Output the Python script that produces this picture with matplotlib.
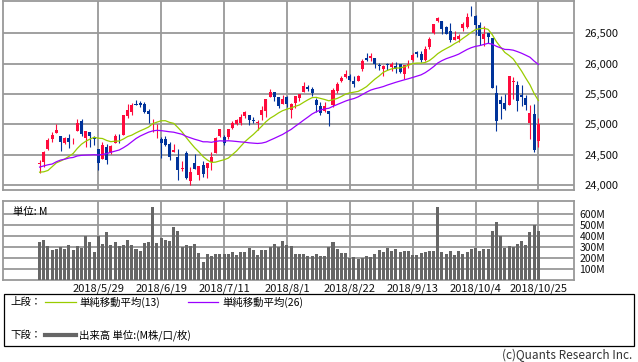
import matplotlib
matplotlib.use("Agg")
import matplotlib.pyplot as plt
from matplotlib.lines import Line2D
from matplotlib.patches import Rectangle
from matplotlib.ticker import FuncFormatter
import pandas as pd

plt.rcParams['font.family'] = ['Noto Sans CJK JP', 'DejaVu Sans']

# daily candles, 2018/5/8 - 2018/10/25
dates = ["5/8", "5/9", "5/10", "5/11", "5/14", "5/15", "5/16", "5/17", "5/18", "5/21",
         "5/22", "5/23", "5/24", "5/25", "5/29", "5/30", "5/31", "6/1", "6/4", "6/5",
         "6/6", "6/7", "6/8", "6/11", "6/12", "6/13", "6/14", "6/15", "6/18", "6/19",
         "6/20", "6/21", "6/22", "6/25", "6/26", "6/27", "6/28", "6/29", "7/2", "7/3",
         "7/5", "7/6", "7/9", "7/10", "7/11", "7/12", "7/13", "7/16", "7/17", "7/18",
         "7/19", "7/20", "7/23", "7/24", "7/25", "7/26", "7/27", "7/30", "7/31", "8/1",
         "8/2", "8/3", "8/6", "8/7", "8/8", "8/9", "8/10", "8/13", "8/14", "8/15",
         "8/16", "8/17", "8/20", "8/21", "8/22", "8/23", "8/24", "8/27", "8/28", "8/29",
         "8/30", "8/31", "9/4", "9/5", "9/6", "9/7", "9/10", "9/11", "9/12", "9/13",
         "9/14", "9/17", "9/18", "9/19", "9/20", "9/21", "9/24", "9/25", "9/26", "9/27",
         "9/28", "10/1", "10/2", "10/3", "10/4", "10/5", "10/8", "10/9", "10/10", "10/11",
         "10/12", "10/15", "10/16", "10/17", "10/18", "10/19", "10/22", "10/23", "10/24", "10/25"]

opens = [24341, 24387, 24591, 24752, 24855, 24811, 24697, 24770, 24702, 24883,
         25047, 24773, 24880, 24795, 24600, 24435, 24626, 24542, 24700, 24804,
         24823, 25134, 25199, 25336, 25350, 25336, 25226, 25081, 24982, 24762,
         24760, 24681, 24542, 24466, 24260, 24530, 24061, 24361, 24161, 24335,
         24280, 24373, 24528, 24800, 24795, 24795, 24934, 25000, 25025, 25139,
         25154, 25064, 25014, 25147, 25225, 25448, 25530, 25453, 25336, 25446,
         25240, 25344, 25441, 25531, 25616, 25586, 25400, 25304, 25220, 25213,
         25314, 25551, 25708, 25780, 25800, 25718, 25717, 25904, 26091, 26088,
         26090, 25975, 25916, 25990, 25950, 25954, 25993, 25832, 25972, 26060,
         26183, 26153, 26060, 26277, 26507, 26704, 26697, 26604, 26533, 26392,
         26406, 26578, 26604, 26836, 26780, 26633, 26398, 26500, 26424, 25522,
         25397, 25354, 25325, 25690, 25640, 25477, 25441, 25020, 25168, 24724]

highs = [24412, 24554, 24778, 24868, 25010, 24811, 24798, 24839, 24782, 25086,
         25086, 24889, 24880, 24801, 24600, 24708, 24682, 24665, 24845, 24844,
         25146, 25326, 25345, 25400, 25386, 25359, 25246, 25090, 25008, 24789,
         24811, 24711, 24668, 24590, 24395, 24560, 24291, 24509, 24307, 24397,
         24363, 24538, 24788, 24919, 24817, 24924, 25052, 25087, 25164, 25216,
         25160, 25124, 25066, 25294, 25414, 25580, 25530, 25453, 25475, 25467,
         25345, 25462, 25502, 25692, 25652, 25621, 25435, 25363, 25370, 25213,
         25602, 25691, 25787, 25888, 25836, 25791, 25819, 26069, 26167, 26167,
         26090, 26011, 25979, 26012, 26031, 26022, 26000, 25981, 26057, 26170,
         26211, 26213, 26295, 26445, 26657, 26769, 26697, 26616, 26664, 26537,
         26487, 26677, 26828, 26951, 26801, 26681, 26623, 26511, 26424, 25640,
         25459, 25500, 25801, 25776, 25713, 25645, 25486, 25321, 25327, 25101]

lows = [24196, 24296, 24570, 24712, 24851, 24567, 24669, 24615, 24681, 24883,
        24803, 24626, 24621, 24666, 24252, 24435, 24352, 24512, 24700, 24694,
        24823, 25109, 25159, 25316, 25291, 25194, 25024, 24866, 24779, 24448,
        24642, 24415, 24542, 24084, 24225, 24100, 23997, 24271, 24077, 24131,
        24123, 24241, 24528, 24790, 24658, 24752, 24920, 24983, 24983, 25109,
        24994, 25015, 24911, 25071, 25125, 25448, 25388, 25264, 25336, 25292,
        25100, 25275, 25389, 25531, 25552, 25468, 25208, 25155, 25200, 24965,
        25285, 25516, 25701, 25762, 25719, 25614, 25707, 25872, 26043, 26047,
        25934, 25886, 25801, 25887, 25882, 25840, 25845, 25750, 25933, 26044,
        26102, 26032, 26050, 26242, 26492, 26686, 26486, 26486, 26348, 26380,
        26363, 26533, 26590, 26789, 26470, 26309, 26296, 26339, 25598, 24896,
        25080, 25239, 25325, 25421, 25216, 25306, 25236, 24757, 24540, 24630]

closes = [24360, 24542, 24739, 24831, 24899, 24706, 24768, 24713, 24715, 25013,
          24834, 24886, 24811, 24753, 24361, 24667, 24415, 24635, 24813, 24799,
          25146, 25241, 25316, 25322, 25320, 25201, 25175, 25090, 24987, 24700,
          24657, 24461, 24580, 24252, 24283, 24117, 24216, 24271, 24307, 24174,
          24356, 24456, 24776, 24919, 24700, 24924, 25019, 25064, 25119, 25199,
          25064, 25058, 25044, 25241, 25414, 25527, 25451, 25306, 25415, 25333,
          25326, 25462, 25502, 25628, 25583, 25509, 25313, 25187, 25299, 25162,
          25558, 25669, 25758, 25822, 25733, 25656, 25790, 26049, 26064, 26124,
          25986, 25964, 25952, 25974, 25995, 25916, 25857, 25971, 25998, 26145,
          26154, 26062, 26246, 26405, 26656, 26743, 26562, 26492, 26385, 26439,
          26458, 26651, 26773, 26828, 26627, 26447, 26486, 26430, 25598, 25052,
          25339, 25250, 25798, 25706, 25379, 25444, 25317, 25191, 24583, 25003]

# closes before the window (4/3 - 5/7), only used to start the moving averages
prior_closes = [24033, 24264, 24505, 23933, 23979, 24408, 24189, 24483, 24360, 24573,
                24787, 24748, 24665, 24463, 24449, 24024, 24084, 24322, 24311, 24163,
                24099, 23925, 23930, 24263, 24357]

# volume, millions
volumes = [345, 363, 309, 273, 285, 297, 282, 318, 273, 309,
           294, 399, 345, 255, 399, 327, 435, 321, 345, 312,
           321, 363, 318, 282, 264, 339, 345, 663, 336, 381,
           363, 357, 480, 444, 300, 318, 309, 327, 246, 165,
           237, 219, 237, 237, 237, 237, 255, 228, 255, 255,
           291, 273, 228, 273, 273, 300, 327, 300, 354, 320,
           309, 237, 237, 237, 219, 219, 237, 219, 219, 300,
           345, 282, 246, 246, 201, 210, 192, 201, 219, 210,
           237, 273, 255, 291, 264, 282, 255, 264, 264, 228,
           228, 246, 255, 264, 264, 663, 255, 237, 264, 228,
           264, 237, 255, 282, 291, 264, 282, 282, 444, 525,
           399, 291, 309, 300, 327, 354, 318, 435, 498, 444]

tick_dates = ["5/29", "6/19", "7/11", "8/1", "8/22", "9/13", "10/4", "10/25"]

UP = '#ff0a3c'
DOWN = '#00339a'
GRID = '#999999'

all_close = pd.Series(prior_closes + closes)
ma13 = all_close.rolling(13).mean().values[len(prior_closes):]
ma26 = all_close.rolling(26).mean().values[len(prior_closes):]

x = list(range(len(dates)))
W, H = 638, 362
fig = plt.figure(figsize=(W / 100, H / 100), dpi=100)

def box(l, t, r, b):
    return [l / W, 1 - b / H, (r - l) / W, (b - t) / H]

ax = fig.add_axes(box(3.3, 1, 574, 190))
axv = fig.add_axes(box(3.3, 201, 574, 280.3))

ticks = [dates.index(d) for d in tick_dates]

# candles
colors = [UP if c >= o else DOWN for o, c in zip(opens, closes)]
ax.vlines(x, lows, highs, colors=colors, linewidth=0.8, zorder=3)
bottoms = [min(o, c) for o, c in zip(opens, closes)]
heights = [max(abs(c - o), 7) for o, c in zip(opens, closes)]
ax.bar(x, heights, bottom=bottoms, width=0.72, color=colors, linewidth=0, zorder=4)

ax.plot(x, ma13, color='#99cc00', linewidth=0.9, zorder=5)
ax.plot(x, ma26, color='#9b00ff', linewidth=0.9, zorder=5)

ax.set_xlim(-8.66, 127.5)
ax.set_ylim(23918, 27030)
ax.set_yticks([24000, 24500, 25000, 25500, 26000, 26500])
ax.yaxis.set_major_formatter(FuncFormatter(lambda v, p: f"{int(v):,}"))
ax.yaxis.tick_right()
ax.set_xticks(ticks)
ax.set_xticklabels([])
ax.tick_params(length=0)
ax.tick_params(axis='y', pad=7.5, labelsize=8, colors='#111111')

# volume
axv.bar(x, volumes, width=0.72, color='#666666', linewidth=0, zorder=3)
axv.set_xlim(-8.66, 127.5)
axv.set_ylim(0, 715)
axv.set_yticks([100, 200, 300, 400, 500, 600])
axv.set_yticklabels([f"{v}M" for v in [100, 200, 300, 400, 500, 600]])
axv.yaxis.tick_right()
axv.set_xticks(ticks)
axv.set_xticklabels(["2018/" + d for d in tick_dates])
axv.tick_params(length=0)
axv.tick_params(axis='y', pad=4, labelsize=7.5, colors='#111111')
axv.tick_params(axis='x', pad=2, labelsize=8, colors='#111111')
axv.text(0.017, 0.93, "単位: M", transform=axv.transAxes, fontsize=7.5,
         ha='left', va='top', zorder=6)

for a in (ax, axv):
    a.grid(True, color=GRID, linewidth=1.3, zorder=0)
    a.set_axisbelow(True)
    for s in a.spines.values():
        s.set_color(GRID)
        s.set_linewidth(1.3)

# legend box
fig.patches.append(Rectangle((3.5 / W, 1 - 346 / H), 630.5 / W, 52 / H,
                             transform=fig.transFigure, fill=False,
                             edgecolor='black', linewidth=0.9))
def fy(py):
    return 1 - py / H

fig.text(10 / W, fy(302), "上段：", fontsize=7.5, va='center', ha='left')
fig.lines.append(Line2D([45 / W, 76 / W], [fy(302), fy(302)], color='#99cc00',
                        linewidth=0.9, transform=fig.transFigure))
fig.text(79 / W, fy(302), "単純移動平均(13)", fontsize=7.5, va='center', ha='left')
fig.lines.append(Line2D([188 / W, 218 / W], [fy(302), fy(302)], color='#9b00ff',
                        linewidth=0.9, transform=fig.transFigure))
fig.text(222 / W, fy(302), "単純移動平均(26)", fontsize=7.5, va='center', ha='left')

fig.text(10 / W, fy(335), "下段：", fontsize=7.5, va='center', ha='left')
fig.lines.append(Line2D([45 / W, 76 / W], [fy(335), fy(335)], color='#666666',
                        linewidth=3, transform=fig.transFigure))
fig.text(79 / W, fy(335), "出来高 単位:(M株/口/枚)", fontsize=7.5, va='center', ha='left')

fig.text(632 / W, fy(355), "(c)Quants Research Inc.", fontsize=8.5, va='center',
         ha='right', color='#333333')

plt.savefig('out.png', dpi=100)
